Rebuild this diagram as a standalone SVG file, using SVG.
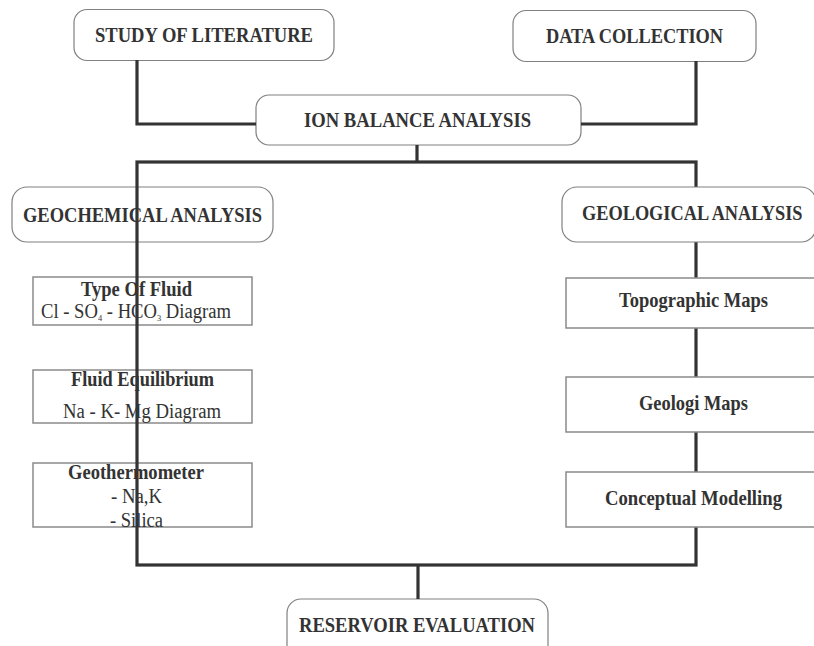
<svg xmlns="http://www.w3.org/2000/svg" width="814" height="646" viewBox="0 0 814 646">
<style>
.rb{fill:#fff;stroke:#808080;stroke-width:1.2}
.sq{fill:#fff;stroke:#8a8a8a;stroke-width:1.5}
.t{font-family:"Liberation Serif","Times New Roman",serif;font-weight:bold;fill:#333;font-size:21px}
.s{font-family:"Liberation Serif","Times New Roman",serif;fill:#333;font-size:20px}
.sub{font-size:9px}
.ln{fill:none;stroke:#333;stroke-width:3.2}
</style>
<rect width="814" height="646" fill="#fff"/>
<g id="study-of-literature"><rect class="rb" x="74" y="9.5" width="260" height="51" rx="13"/><text class="t" x="95" y="42" textLength="218" lengthAdjust="spacingAndGlyphs">STUDY OF LITERATURE</text></g>
<g id="data-collection"><rect class="rb" x="513" y="10.5" width="243" height="51" rx="13"/><text class="t" x="546" y="43" textLength="177" lengthAdjust="spacingAndGlyphs">DATA COLLECTION</text></g>
<g id="ion-balance-analysis"><rect class="rb" x="256" y="95" width="325" height="50" rx="13"/><text class="t" x="304" y="127" textLength="227" lengthAdjust="spacingAndGlyphs">ION BALANCE ANALYSIS</text></g>
<g id="geochemical-analysis"><rect class="rb" x="12" y="187" width="261" height="55" rx="15"/><text class="t" x="23" y="222" textLength="239" lengthAdjust="spacingAndGlyphs">GEOCHEMICAL ANALYSIS</text></g>
<g id="type-of-fluid"><rect class="sq" x="33" y="277" width="219" height="48"/><text class="t" x="81" y="296" textLength="111" lengthAdjust="spacingAndGlyphs">Type Of Fluid</text><text class="s" x="41" y="318" textLength="190" lengthAdjust="spacingAndGlyphs">Cl - SO<tspan class="sub" dy="3">4</tspan><tspan dy="-3"> - HCO</tspan><tspan class="sub" dy="3">3</tspan><tspan dy="-3"> Diagram</tspan></text></g>
<g id="fluid-equilibrium"><rect class="sq" x="33" y="370" width="219" height="53"/><text class="t" x="71" y="386" textLength="143" lengthAdjust="spacingAndGlyphs">Fluid Equilibrium</text><text class="s" x="63" y="418" textLength="158" lengthAdjust="spacingAndGlyphs">Na - K- Mg Diagram</text></g>
<g id="geothermometer"><rect class="sq" x="33" y="463" width="219" height="64"/><text class="t" x="68" y="479" textLength="136" lengthAdjust="spacingAndGlyphs">Geothermometer</text><text class="s" x="111" y="503" textLength="51" lengthAdjust="spacingAndGlyphs">- Na,K</text><text class="s" x="110" y="527" textLength="53" lengthAdjust="spacingAndGlyphs">- Silica</text></g>
<g id="reservoir-evaluation"><rect class="rb" x="287" y="599" width="261" height="60" rx="14"/><text class="t" x="299" y="632" textLength="236" lengthAdjust="spacingAndGlyphs">RESERVOIR EVALUATION</text></g>
<g id="connectors">
<polyline class="ln" points="137,60 137,124 256,124"/>
<polyline class="ln" points="696,61 696,124 581,124"/>
<line class="ln" x1="417" y1="145" x2="417" y2="162"/>
<rect class="ln" x="137" y="162" width="559" height="403"/>
<line class="ln" x1="418" y1="565" x2="418" y2="599"/>
</g>
<g id="geological-analysis"><rect class="rb" x="562" y="187" width="254" height="55" rx="15"/><text class="t" transform="translate(582,220) scale(0.872,1)" x="0" y="0">GEOLOGICAL ANALYSIS</text></g>
<g id="topographic-maps"><rect class="sq" x="566" y="278" width="250" height="50"/><text class="t" x="619" y="307" textLength="149" lengthAdjust="spacingAndGlyphs">Topographic Maps</text></g>
<g id="geologi-maps"><rect class="sq" x="566" y="377" width="250" height="55"/><text class="t" x="639" y="410" textLength="109" lengthAdjust="spacingAndGlyphs">Geologi Maps</text></g>
<g id="conceptual-modelling"><rect class="sq" x="566" y="472" width="250" height="55"/><text class="t" x="605" y="505" textLength="177" lengthAdjust="spacingAndGlyphs">Conceptual Modelling</text></g>
</svg>
